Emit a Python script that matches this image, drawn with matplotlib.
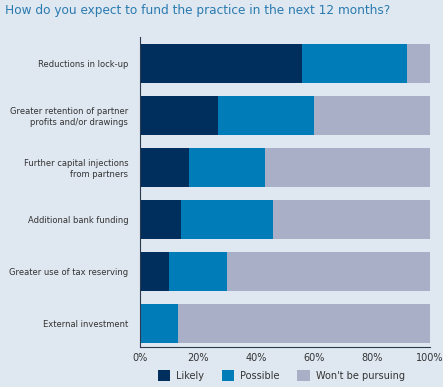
import matplotlib
matplotlib.use("Agg")
import matplotlib.pyplot as plt
import numpy as np

categories = ["Reductions in lock-up",
              "Greater retention of partner\nprofits and/or drawings",
              "Further capital injections\nfrom partners",
              "Additional bank funding",
              "Greater use of tax reserving",
              "External investment"]
likely = [56, 27, 17, 14, 10, 0]
possible = [36, 33, 26, 32, 20, 13]
wont = [8, 40, 57, 54, 70, 87]
series_names = ["Likely", "Possible", "Won't be pursuing"]
xticks = [0, 20, 40, 60, 80, 100]
xtick_labels = ["0%", "20%", "40%", "60%", "80%", "100%"]

colors = ["#002e5d", "#007db8", "#a8afc6"]
bg = "#dfe7f0"

fig = plt.figure(figsize=(4.43, 3.87), dpi=100, facecolor=bg)
ax = fig.add_axes([0.316, 0.103, 0.655, 0.801], facecolor=bg)

y = np.arange(len(categories))
left = np.zeros(len(categories))
for vals, c, name in zip([likely, possible, wont], colors, series_names):
    ax.barh(y, vals, left=left, color=c, height=0.745, label=name)
    left = left + np.array(vals)

ax.set_ylim(5.45, -0.5)
ax.set_xlim(0, 100)
ax.set_yticks(y)
ax.set_yticklabels(categories, fontsize=6.0, color="#333333")
ax.set_xticks(xticks)
ax.set_xticklabels(xtick_labels, fontsize=7, color="#333333")
ax.tick_params(axis="y", length=0, pad=8.5)
ax.tick_params(axis="x", length=0, pad=4)
for s in ["top", "right"]:
    ax.spines[s].set_visible(False)
for s in ["left", "bottom"]:
    ax.spines[s].set_color("#2a3a50")
    ax.spines[s].set_linewidth(0.8)

fig.text(0.012, 0.972, "How do you expect to fund the practice in the next 12 months?",
         fontsize=8.75, color="#2a7bb0", va="center", ha="left")

leg = fig.legend(loc="center", bbox_to_anchor=(0.635, 0.03), ncol=3, frameon=False,
                 fontsize=7, handlelength=1.3, handleheight=1.3, columnspacing=1.8,
                 handletextpad=0.6, labelcolor="#333333")

fig.savefig("out.png", dpi=100, facecolor=bg)
